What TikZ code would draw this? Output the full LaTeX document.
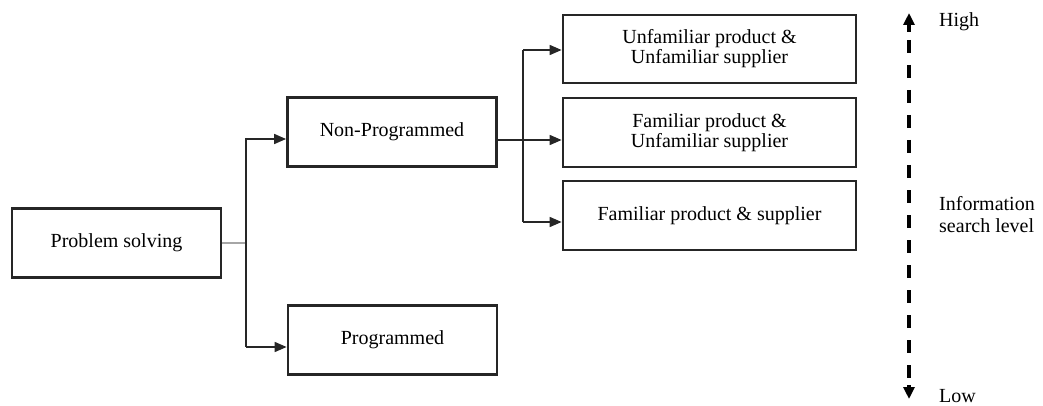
\documentclass[tikz,border=0pt]{standalone}
\usepackage{fontspec}
\setmainfont{Liberation Serif}
\usetikzlibrary{arrows.meta,calc}
\begin{document}
\begin{tikzpicture}[x=1pt,y=-1pt,
  box/.style={draw=black!85,line width=2.8pt,minimum width=#1,minimum height=69pt,inner sep=0pt,align=center,
    font=\rmfamily\fontsize{20}{20}\selectfont},
  box/.default=209pt,
  conn/.style={line width=1.6pt,draw=black!85},
  tip/.style={-{Triangle[length=12pt,width=10pt]}},
  lbl/.style={anchor=west,align=left,inner sep=0pt,font=\rmfamily\fontsize{20}{22}\selectfont}]
\useasboundingbox (0,0) rectangle (1043,406);
\node[box] (ps) at (116.5,243) {Problem solving};
\node[box] (np) at (392,132) {Non-Programmed};
\node[box] (pg) at (392.5,340) {Programmed};
\node[box=293pt,minimum height=68pt] (uu) at (709.5,49) {Unfamiliar product \&\\Unfamiliar supplier};
\node[box=293pt] (fu) at (709.5,132.5) {Familiar product \&\\Unfamiliar supplier};
\node[box=293pt] (fs) at (709.5,215.5) {Familiar product \& supplier};
% left tree
\coordinate (j1) at (246,243);
\draw[line width=1.8pt,draw=black!35] (ps.east) -- (j1);
\draw[conn] (246,138) -- (246,347);
\draw[conn,tip] (246,139) -- (np.west |- 0,139);
\draw[conn,tip] (246,347) -- (pg.west |- 0,347);
% right tree
\draw[conn,tip] (np.east |- 0,140) -- (fu.west |- 0,140);
\draw[conn] (523,50) -- (523,222);
\draw[conn,tip] (523,50) -- (uu.west |- 0,50);
\draw[conn,tip] (523,222) -- (fs.west |- 0,222);
% scale
\coordinate (top) at (909,13);
\coordinate (bot) at (909,399);
\draw[line width=3.4pt,dash pattern=on 13pt off 12pt,dash phase=0pt] (909,40) -- (909,378);
\draw[line width=3.4pt,-{Triangle[length=12pt,width=11pt]}] (909,32) -- (top);
\draw[line width=3.4pt,-{Triangle[length=12pt,width=11pt]}] (909,385) -- (bot);
\node[lbl] (hi) at (939,22) {High};
\node[lbl] (info) at (939,215) {Information\\search level};
\node[lbl] (lo) at (939,396) {Low};
\end{tikzpicture}
\end{document}
